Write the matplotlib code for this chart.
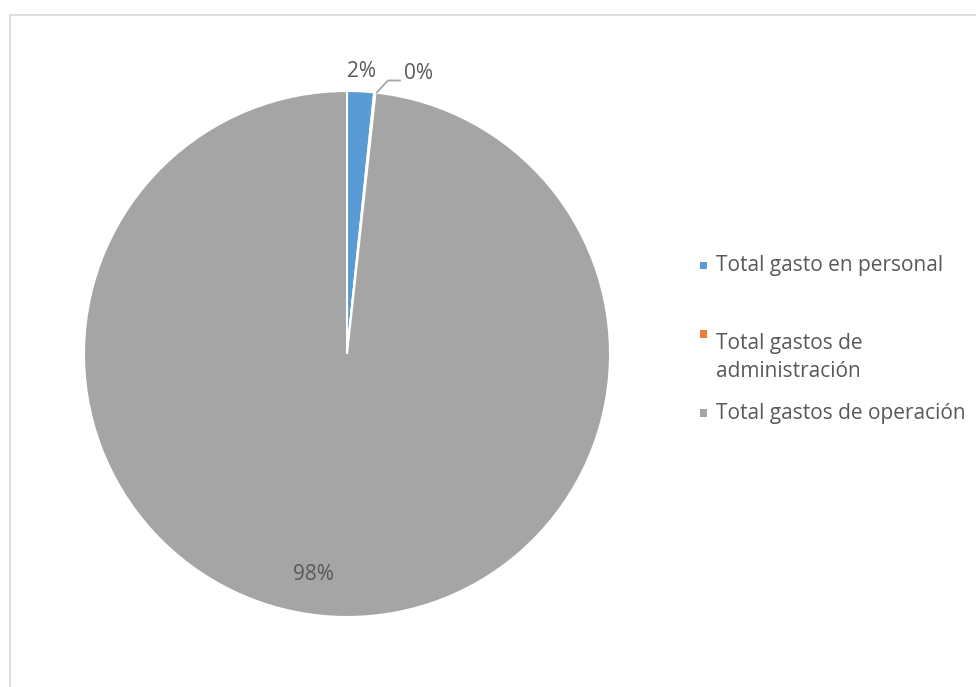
import matplotlib
matplotlib.use("Agg")
import matplotlib.pyplot as plt
from matplotlib.patches import Rectangle
import numpy as np

categories = ["Total gasto en personal", "Total gastos de\nadministración", "Total gastos de operación"]
values = [1.65, 0.08, 98.27]
pct_labels = ["2%", "0%", "98%"]
colors = ["#5B9BD5", "#ED7D31", "#A5A5A5"]

plt.rcParams['font.family'] = ['Open Sans', 'DejaVu Sans']
txt_color = "#595959"

W, H = 976, 687
fig = plt.figure(figsize=(W/100, H/100), dpi=100)

# chart frame
fig.patches.append(Rectangle((9.5/W, -0.1), 1.2, (H-14.5)/H + 0.1, transform=fig.transFigure,
                             fill=False, edgecolor="#d9d9d9", linewidth=1.2))

cx, cy, r = 347, 354, 263
ax = fig.add_axes([(cx-r)/W, (H-cy-r)/H, 2*r/W, 2*r/H])
wedges, _ = ax.pie(values, colors=colors, startangle=90, counterclock=False,
                   wedgeprops=dict(edgecolor="white", linewidth=1.5))
ax.set_xlim(-1, 1); ax.set_ylim(-1, 1)
ax.set_aspect('equal')
px = 1.0 / r  # one pixel in data units

fs = 15
# labels
w0 = wedges[0]
a0 = np.deg2rad((w0.theta1 + w0.theta2)/2)
ax.text(1.075*np.cos(a0), 1.075*np.sin(a0), pct_labels[0], ha='center', va='center',
        fontsize=fs, color=txt_color)
w1 = wedges[1]
a1 = np.deg2rad((w1.theta1 + w1.theta2)/2)
p_start = (1.0*np.cos(a1) + 2*px, 1.0*np.sin(a1))
p_mid = (p_start[0] + 11*px, p_start[1] + 12*px)
p_end = (p_mid[0] + 12*px, p_mid[1])
ax.plot([p_start[0], p_mid[0], p_end[0]], [p_start[1], p_mid[1], p_end[1]],
        color="#A6A6A6", linewidth=1.3, clip_on=False)
ax.text(p_end[0] + 4*px, p_end[1] + 7*px, pct_labels[1], ha='left', va='center',
        fontsize=fs, color=txt_color)
w2 = wedges[2]
a2 = np.deg2rad((w2.theta1 + w2.theta2)/2)
ax.text(0.85*np.cos(a2) - 0.08, 0.85*np.sin(a2) + 0.01, pct_labels[2], ha='center', va='center',
        fontsize=fs, color=txt_color)

# legend
leg_marker_y = [265.5, 334, 413]
leg_text_y = [265.5, 333, 413]
for lab, col, ym, yt in zip(categories, colors, leg_marker_y, leg_text_y):
    fig.patches.append(Rectangle((699.5/W, (H-ym-3.7)/H), 7.4/W, 7.4/H, transform=fig.transFigure,
                                 facecolor=col, edgecolor='none'))
    fig.text(716/W, (H-yt)/H, lab, ha='left', va='top' if "\n" in lab else 'center',
             fontsize=fs, color=txt_color, linespacing=1.45)

fig.savefig("out.png", dpi=100)
